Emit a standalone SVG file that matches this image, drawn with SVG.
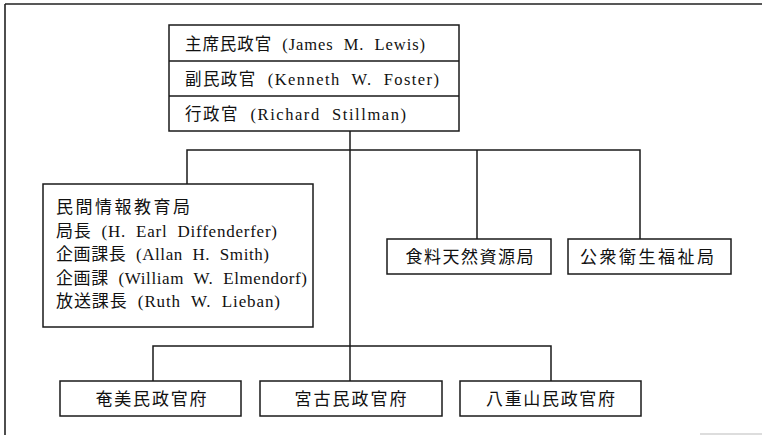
<svg xmlns="http://www.w3.org/2000/svg" width="762" height="435" viewBox="0 0 762 435">
<style>
.box{fill:#fff;stroke:#1a1a1a;stroke-width:1.5}
.ln{fill:none;stroke:#1a1a1a;stroke-width:1.5}
.frame{fill:none;stroke:#222;stroke-width:1.6}
text{font-family:"Liberation Serif","Noto Sans CJK JP",serif;fill:#111}
.t15{font-size:16.5px}
.t16{font-size:17px}
.c{text-anchor:middle}
</style>
<rect width="762" height="435" fill="#fff"/>
<g id="frame">
<path class="frame" d="M5,4 H762 M5,4 V435"/>
<path d="M700,434 H762" stroke="#bbb" stroke-width="1" fill="none"/>
</g>
<g id="connectors">
<path class="ln" d="M350,131 V381"/>
<path class="ln" d="M187,184 V150 H640 V239"/>
<path class="ln" d="M477,150 V239"/>
<path class="ln" d="M153,381 V346 H551 V381"/>
</g>
<g id="top">
<rect class="box" x="169" y="25" width="290" height="106"/>
<path class="ln" d="M169,61 H459 M169,96 H459"/>
<text class="t15" x="185" y="49.5" textLength="240" lengthAdjust="spacing">主席民政官&#160; (James&#160; M.&#160; Lewis)</text>
<text class="t15" x="185" y="84.5" textLength="254" lengthAdjust="spacing">副民政官&#160; (Kenneth&#160; W.&#160; Foster)</text>
<text class="t15" x="185" y="119.5" textLength="221" lengthAdjust="spacing">行政官&#160; (Richard&#160; Stillman)</text>
</g>
<g id="cie">
<rect class="box" x="43" y="184" width="270" height="143"/>
<text class="t16" x="56" y="213" textLength="134" lengthAdjust="spacing">民間情報教育局</text>
<text class="t16" x="56" y="236.5" textLength="221" lengthAdjust="spacing">局長&#160; (H.&#160; Earl&#160; Diffenderfer)</text>
<text class="t16" x="56" y="260" textLength="213" lengthAdjust="spacing">企画課長&#160; (Allan&#160; H.&#160; Smith)</text>
<text class="t16" x="56" y="283.5" textLength="251" lengthAdjust="spacing">企画課&#160; (William&#160; W.&#160; Elmendorf)</text>
<text class="t16" x="56" y="307" textLength="224" lengthAdjust="spacing">放送課長&#160; (Ruth&#160; W.&#160; Lieban)</text>
</g>
<g id="food">
<rect class="box" x="387" y="239" width="164" height="35"/>
<text class="t16 c" x="469.5" y="263" textLength="128" lengthAdjust="spacing">食料天然資源局</text>
</g>
<g id="health">
<rect class="box" x="568" y="239" width="163" height="35"/>
<text class="t16 c" x="647" y="263" textLength="134" lengthAdjust="spacing">公衆衛生福祉局</text>
</g>
<g id="amami">
<rect class="box" x="60" y="381" width="181" height="35"/>
<text class="t16 c" x="151" y="405" textLength="111" lengthAdjust="spacing">奄美民政官府</text>
</g>
<g id="miyako">
<rect class="box" x="260" y="381" width="182" height="35"/>
<text class="t16 c" x="350.5" y="405" textLength="112" lengthAdjust="spacing">宮古民政官府</text>
</g>
<g id="yaeyama">
<rect class="box" x="460" y="381" width="181" height="35"/>
<text class="t16 c" x="550.5" y="405" textLength="129" lengthAdjust="spacing">八重山民政官府</text>
</g>
</svg>
